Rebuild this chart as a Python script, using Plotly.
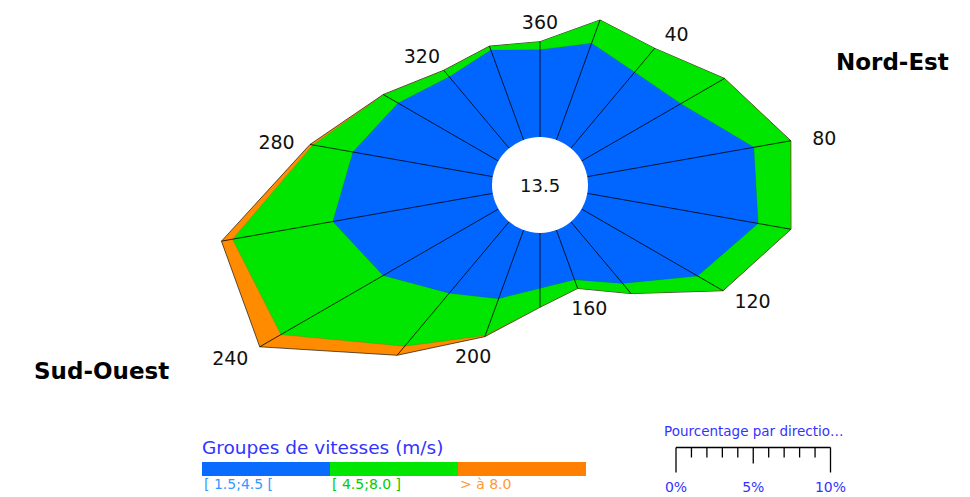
import numpy as np
import plotly.graph_objects as go

# ---------------- data ----------------
directions = [360, 20, 40, 60, 80, 100, 120, 140, 160, 180, 200, 220, 240, 260, 280, 300, 320, 340]
labelled_dirs = [360, 40, 80, 120, 160, 200, 240, 280, 320]
band_names = ["[ 1.5;4.5 [", "[ 4.5;8.0 ]", "> à 8.0"]
pct_low = [5.65, 6.66, 6.43, 7.42, 10.95, 11.23, 8.68, 5.21, 3.42, 3.57, 4.72, 6.03, 8.62, 10.51, 9.19, 7.50, 6.03, 6.19]
pct_mid = [0.52, 1.60, 2.01, 3.25, 2.41, 2.14, 1.88, 0.85, 0.58, 1.22, 2.54, 4.49, 7.64, 6.59, 2.63, 1.08, 0.54, 0.26]
pct_high = [0.00, 0.00, 0.00, 0.02, 0.02, 0.02, 0.02, 0.01, 0.02, 0.02, 0.08, 0.76, 1.58, 0.73, 0.19, 0.03, 0.02, 0.01]
calm_pct = 13.5
scale_ticks = [0, 5, 10]

# ---------------- geometry ----------------
W, Hgt = 970, 497
K = 15.45           # px per percent
CX, CY = 540, 185   # centre of the rose (px, from top-left)
HOLE = 48 / K       # hole radius in percent units

band_colors = ["#0066FF", "#00E600", "#FF8C00"]
legend_colors = ["#0A6CFF", "#00E600", "#FF8000"]
label_colors = ["#3399FF", "#00CC00", "#FF9933"]

theta = np.radians(directions)
low = np.array(pct_low)
mid = np.array(pct_mid)
high = np.array(pct_high)
cum = [low, low + mid, low + mid + high]


def xy(r, th):
    rr = HOLE + r
    return rr * np.sin(th), rr * np.cos(th)


def px(x):
    return x / W


def py(y):
    return 1 - y / Hgt


fig = go.Figure()

# polygons, outermost first
for i in [2, 1, 0]:
    x, y = xy(cum[i], theta)
    x = np.append(x, x[0])
    y = np.append(y, y[0])
    fig.add_trace(go.Scatter(
        x=x, y=y, mode="lines", fill="toself", fillcolor=band_colors[i],
        line=dict(color="rgba(0,0,0,0.8)" if i == 2 else "rgba(0,0,0,0.25)", width=0.8 if i == 2 else 0.4),
        hoverinfo="skip", showlegend=False))

# radial lines
rx, ry = [], []
for k, th in enumerate(theta):
    x0, y0 = xy(0, th)
    x1, y1 = xy(cum[2][k], th)
    rx += [x0, x1, None]
    ry += [y0, y1, None]
fig.add_trace(go.Scatter(x=rx, y=ry, mode="lines", line=dict(color="black", width=0.8),
                         hoverinfo="skip", showlegend=False))

# hole
fig.add_shape(type="circle", xref="x", yref="y", x0=-HOLE, y0=-HOLE, x1=HOLE, y1=HOLE,
              fillcolor="white", line=dict(width=0), layer="above")
fig.add_annotation(x=0, y=0, xref="x", yref="y", text=f"{calm_pct}", showarrow=False,
                   xanchor="center", yanchor="middle",
                   font=dict(family="DejaVu Sans", size=18, color="#111111"))

# direction labels, placed just outside the outer vertex
lx, ly, lt = [], [], []
for d in labelled_dirs:
    k = directions.index(d)
    th = np.radians(d)
    x, y = xy(cum[2][k], th)
    lx.append(x + 34 * np.sin(th) / K)
    ly.append(y + 20 * np.cos(th) / K - 3 / K)
    lt.append(str(d))
fig.add_trace(go.Scatter(x=lx, y=ly, mode="text", text=lt,
                         textfont=dict(family="DejaVu Sans", size=19, color="#111111"),
                         hoverinfo="skip", showlegend=False))

# regional labels
fig.add_annotation(x=px(892), y=py(62), xref="paper", yref="paper", text="<b>Nord-Est</b>",
                   xanchor="center", yanchor="middle", showarrow=False,
                   font=dict(family="DejaVu Sans", size=23, color="#000000"))
fig.add_annotation(x=px(101), y=py(371), xref="paper", yref="paper", text="<b>Sud-Ouest</b>",
                   xanchor="center", yanchor="middle", showarrow=False,
                   font=dict(family="DejaVu Sans", size=23, color="#000000"))

# speed legend
fig.add_annotation(x=px(200), y=py(447), xref="paper", yref="paper", xanchor="left", yanchor="middle",
                   text="Groupes de vitesses (m/s)", showarrow=False,
                   font=dict(family="DejaVu Sans", size=18.5, color="#3333FF"))
bx0, bx1 = 202, 586
seg = (bx1 - bx0) / len(band_names)
for i, name in enumerate(band_names):
    fig.add_shape(type="rect", xref="paper", yref="paper",
                  x0=px(bx0 + i * seg), x1=px(bx0 + (i + 1) * seg),
                  y0=py(476), y1=py(462),
                  fillcolor=legend_colors[i], line=dict(width=0))
    fig.add_annotation(x=px(bx0 + i * seg), y=py(484), xref="paper", yref="paper",
                       xanchor="left", yanchor="middle", text=name, showarrow=False,
                       font=dict(family="DejaVu Sans", size=14, color=label_colors[i]))

# percentage scale (drawn in the same data units as the rose)
sx0 = (676 - CX) / K
sy = (CY - 447.5) / K
sxs, sys_ = [sx0, sx0 + 10, None], [sy, sy, None]
for t in range(11):
    L = 25 if t in (0, 10) else (16 if t == 5 else 10)
    sxs += [sx0 + t, sx0 + t, None]
    sys_ += [sy, sy - L / K, None]
fig.add_trace(go.Scatter(x=sxs, y=sys_, mode="lines", line=dict(color="black", width=1.3),
                         hoverinfo="skip", showlegend=False))
fig.add_trace(go.Scatter(x=[sx0 + t for t in scale_ticks], y=[sy - 41 / K] * 3, mode="text",
                         text=[f"{t}%" for t in scale_ticks],
                         textfont=dict(family="DejaVu Sans", size=14, color="#3333FF"),
                         hoverinfo="skip", showlegend=False))
fig.add_annotation(x=px(662), y=py(431), xref="paper", yref="paper", xanchor="left", yanchor="middle",
                   text="Pourcentage par directio…", showarrow=False,
                   font=dict(family="DejaVu Sans", size=13.5, color="#3333FF"))

fig.update_layout(
    width=W, height=Hgt, margin=dict(l=0, r=0, t=0, b=0),
    paper_bgcolor="white", plot_bgcolor="white", showlegend=False,
    xaxis=dict(range=[-CX / K, (W - CX) / K], visible=False, fixedrange=True),
    yaxis=dict(range=[-(Hgt - CY) / K, CY / K], visible=False, fixedrange=True),
)

fig.write_html("out.html", config={"displayModeBar": False},
               post_script="document.body.style.margin='0px';document.body.style.overflow='hidden';")
